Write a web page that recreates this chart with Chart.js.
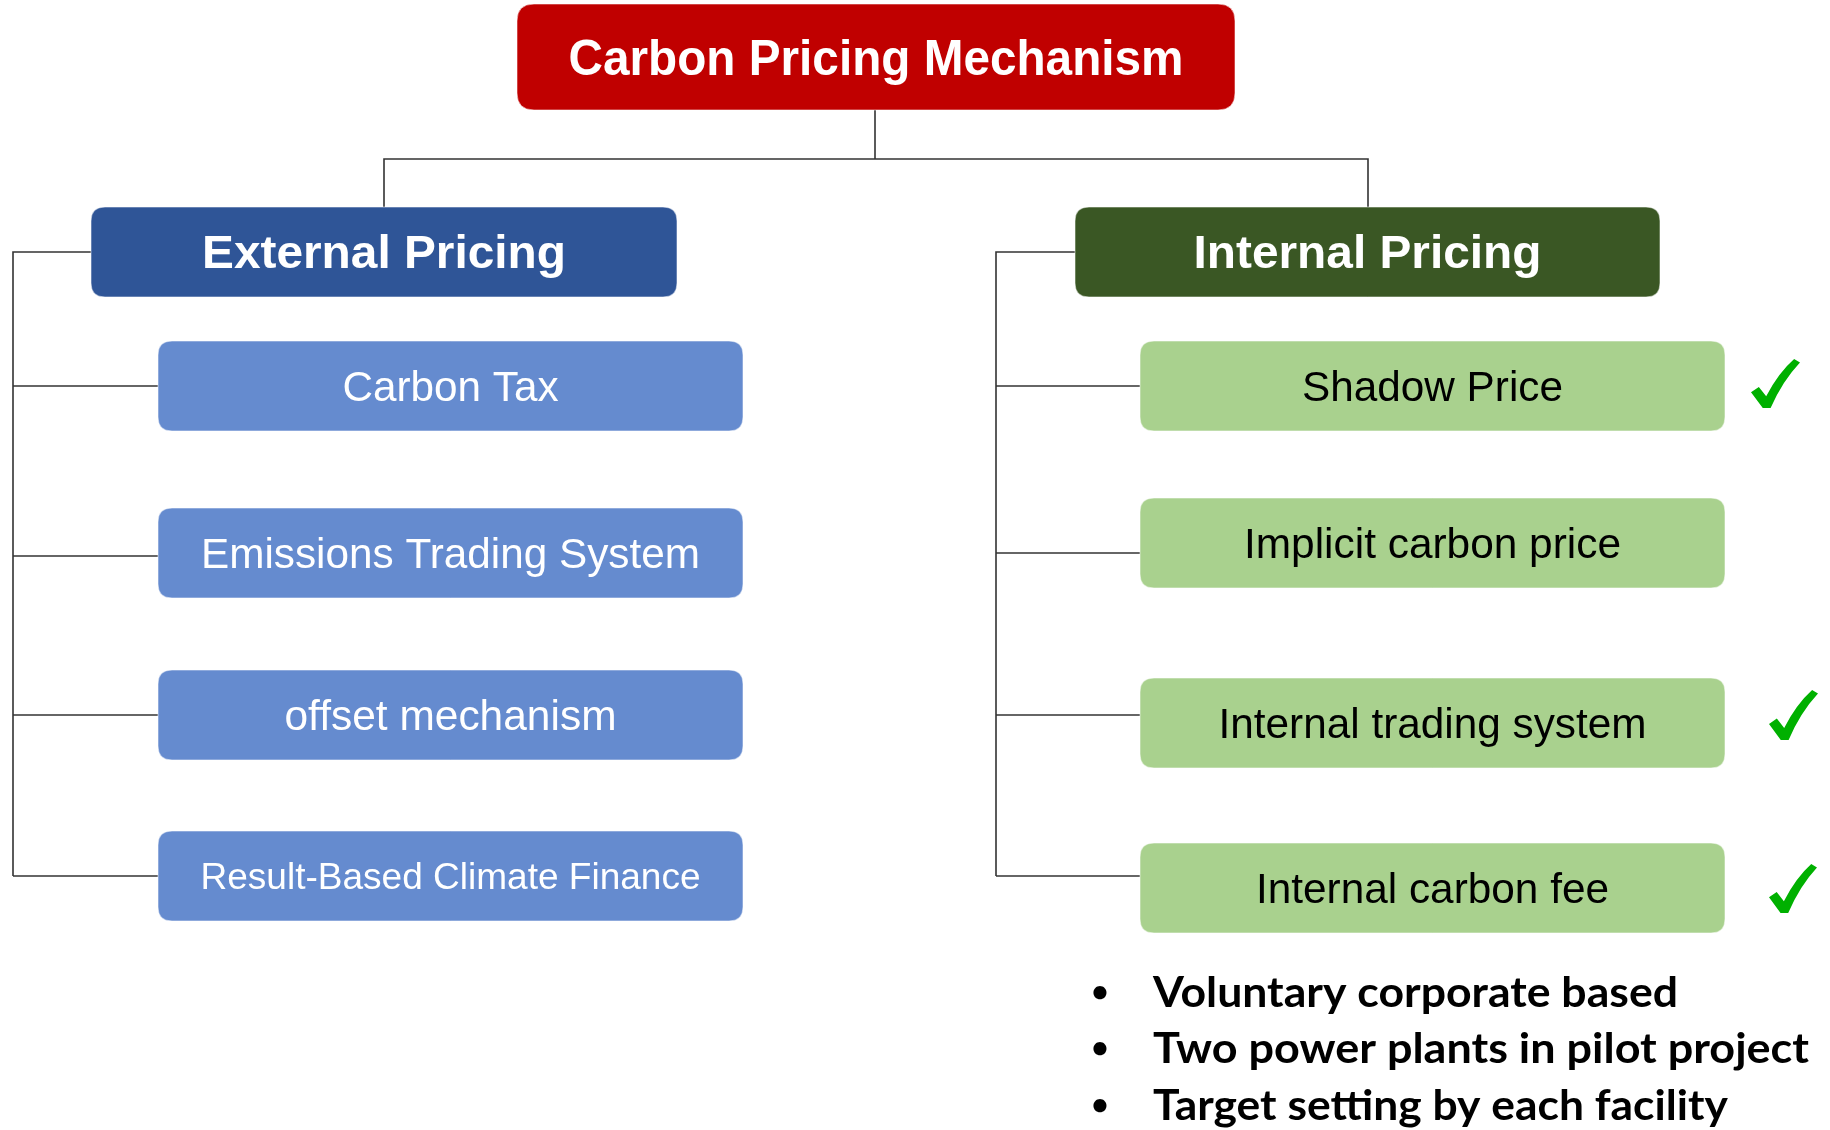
<!DOCTYPE html>
<html><head><meta charset="utf-8">
<script src="https://cdn.jsdelivr.net/npm/chart.js@4.4.1/dist/chart.umd.min.js"></script>
<style>html,body{margin:0;padding:0;background:#fff;overflow:hidden}canvas{display:block}</style>
</head><body>
<canvas id="c" width="1830" height="1130" style="width:1830px;height:1130px"></canvas>
<script>
// ---- content ----
const rootLabel = 'Carbon Pricing Mechanism';
const branchLabels = ['External Pricing', 'Internal Pricing'];
const externalItems = ['Carbon Tax', 'Emissions Trading System', 'offset mechanism', 'Result-Based Climate Finance'];
const internalItems = ['Shadow Price', 'Implicit carbon price', 'Internal trading system', 'Internal carbon fee'];
const internalChecked = [true, false, true, true];
const noteLines = ['Voluntary corporate based', 'Two power plants in pilot project', 'Target setting by each facility'];

// ---- layout (diagram units, mapped through the chart scales) ----
const layout = {
  root: {x0: 517, x1: 1235, y0: 4, y1: 110, r: 17, fill: '#C00000', color: '#FFFFFF', weight: 'bold', size: 50, tw: 615},
  branches: [
    {x0: 91, x1: 677, y0: 207, y1: 297, r: 14, fill: '#2F5597', color: '#FFFFFF', weight: 'bold', size: 46, tw: 364},
    {x0: 1075, x1: 1660, y0: 207, y1: 297, r: 14, fill: '#3A5724', color: '#FFFFFF', weight: 'bold', size: 46, tw: 348}
  ],
  ext: {x0: 158, x1: 743, ys: [[341, 431], [508, 598], [670, 760], [831, 921]], sizes: [42, 42, 42, 37], tws: [216, 499, 332, 500],
        fill: '#658BCF', color: '#FFFFFF', r: 14, links: [386, 556, 715, 876], spineX: 13, topY: 252},
  int: {x0: 1140, x1: 1725, ys: [[341, 431], [498, 588], [678, 768], [843, 933]], sizes: [42, 42, 42, 42], tws: [261, 377, 428, 353],
        fill: '#A9D18E', color: '#000000', r: 14, links: [386, 553, 715, 876], spineX: 996, topY: 252},
  checks: [[1751, 359, 49, 49], null, [1769, 690, 49, 50], [1769, 864, 48, 49]],
  rootLink: {x: 875, y0: 110, y1: 159, xl: 384, xr: 1368, yb: 207},
  notes: {bulletX: 1100, textX: 1153, baselines: [1007, 1063, 1120], size: 42, bulletSize: 30, tws: [525, 656, 575]}
};

const SANS = '"Liberation Sans", Arial, sans-serif';
const NOTE_FONT = 'Lato, "Open Sans", sans-serif';

function rr(ctx, x, y, w, h, r) {
  ctx.beginPath();
  ctx.moveTo(x + r, y);
  ctx.lineTo(x + w - r, y);
  ctx.quadraticCurveTo(x + w, y, x + w, y + r);
  ctx.lineTo(x + w, y + h - r);
  ctx.quadraticCurveTo(x + w, y + h, x + w - r, y + h);
  ctx.lineTo(x + r, y + h);
  ctx.quadraticCurveTo(x, y + h, x, y + h - r);
  ctx.lineTo(x, y + r);
  ctx.quadraticCurveTo(x, y, x + r, y);
  ctx.closePath();
}

function fitText(ctx, text, x, baseline, font, tw, align) {
  ctx.font = font;
  const w = ctx.measureText(text).width;
  const sx = tw ? tw / w : 1;
  ctx.save();
  ctx.translate(x, baseline);
  ctx.scale(sx, 1);
  ctx.textAlign = align || 'center';
  ctx.textBaseline = 'alphabetic';
  ctx.fillText(text, 0, 0);
  ctx.restore();
}

const diagram = {
  id: 'diagram',
  afterDatasetsDraw(chart) {
    const ctx = chart.ctx;
    const X = v => chart.scales.x.getPixelForValue(v);
    const Y = v => chart.scales.y.getPixelForValue(v);

    function box(b, label, size, tw, weight) {
      const x0 = X(b.x0), x1 = X(b.x1), y0 = Y(b.y0), y1 = Y(b.y1);
      rr(ctx, x0, y0, x1 - x0, y1 - y0, b.r);
      ctx.fillStyle = b.fill;
      ctx.fill();
      ctx.lineWidth = 1;
      ctx.strokeStyle = 'rgba(255,255,255,0.55)';
      ctx.stroke();
      ctx.fillStyle = b.color;
      const cap = size * 0.716;
      fitText(ctx, label, (x0 + x1) / 2, (y0 + y1) / 2 + cap / 2, (weight || '') + ' ' + size + 'px ' + SANS, tw);
    }

    // connectors
    ctx.save();
    ctx.strokeStyle = '#333333';
    ctx.lineWidth = 1.6;
    const rl = layout.rootLink;
    ctx.beginPath();
    ctx.moveTo(X(rl.x), Y(rl.y0)); ctx.lineTo(X(rl.x), Y(rl.y1));
    ctx.moveTo(X(rl.xl), Y(rl.yb)); ctx.lineTo(X(rl.xl), Y(rl.y1)); ctx.lineTo(X(rl.xr), Y(rl.y1)); ctx.lineTo(X(rl.xr), Y(rl.yb));
    ctx.stroke();
    [[layout.ext, layout.branches[0]], [layout.int, layout.branches[1]]].forEach(([g, br]) => {
      ctx.beginPath();
      ctx.moveTo(X(br.x0), Y(g.topY));
      ctx.lineTo(X(g.spineX), Y(g.topY));
      ctx.lineTo(X(g.spineX), Y(g.links[g.links.length - 1]));
      ctx.stroke();
      g.links.forEach(ly => {
        ctx.beginPath();
        ctx.moveTo(X(g.spineX), Y(ly));
        ctx.lineTo(X(g.x0), Y(ly));
        ctx.stroke();
      });
    });
    ctx.restore();

    // boxes
    box(layout.root, rootLabel, layout.root.size, layout.root.tw, 'bold');
    branchLabels.forEach((lab, i) => { const b = layout.branches[i]; box(b, lab, b.size, b.tw, 'bold'); });
    [[externalItems, layout.ext], [internalItems, layout.int]].forEach(([items, g]) => {
      items.forEach((lab, i) => {
        const b = {x0: g.x0, x1: g.x1, y0: g.ys[i][0], y1: g.ys[i][1], r: g.r, fill: g.fill, color: g.color};
        box(b, lab, g.sizes[i], g.tws[i], '');
      });
    });

    // check marks
    internalChecked.forEach((on, i) => {
      if (!on) return;
      const c = layout.checks[i];
      const x = X(c[0]), y = Y(c[1]), w = X(c[0] + c[2]) - x, h = Y(c[1] + c[3]) - y;
      const P = (u, v) => [x + u * w, y + v * h];
      ctx.save();
      ctx.fillStyle = '#00B000';
      ctx.beginPath();
      ctx.moveTo(...P(0.00, 0.68));
      ctx.lineTo(...P(0.16, 0.57));
      ctx.lineTo(...P(0.31, 0.76));
      ctx.quadraticCurveTo(...P(0.56, 0.28), ...P(0.88, 0.00));
      ctx.lineTo(...P(1.00, 0.07));
      ctx.quadraticCurveTo(...P(0.64, 0.45), ...P(0.40, 1.00));
      ctx.lineTo(...P(0.24, 1.00));
      ctx.closePath();
      ctx.fill();
      ctx.restore();
    });

    // notes
    const n = layout.notes;
    ctx.save();
    ctx.fillStyle = '#000000';
    noteLines.forEach((t, i) => {
      const bl = Y(n.baselines[i]);
      fitText(ctx, '\u2022', X(n.bulletX), bl - 5, 'bold ' + n.bulletSize + 'px ' + NOTE_FONT, null, 'center');
      fitText(ctx, t, X(n.textX), bl, 'bold ' + n.size + 'px ' + NOTE_FONT, n.tws[i], 'left');
    });
    ctx.restore();
  }
};

const anchorPoints = [];
anchorPoints.push({x: (layout.root.x0 + layout.root.x1) / 2, y: (layout.root.y0 + layout.root.y1) / 2});

new Chart(document.getElementById('c').getContext('2d'), {
  type: 'scatter',
  data: {datasets: [{data: anchorPoints, pointRadius: 0, showLine: false}]},
  options: {
    responsive: false,
    animation: false,
    events: [],
    layout: {padding: 0},
    plugins: {legend: {display: false}, tooltip: {enabled: false}},
    scales: {
      x: {type: 'linear', min: 0, max: 1830, display: false},
      y: {type: 'linear', min: 0, max: 1130, reverse: true, display: false}
    }
  },
  plugins: [diagram]
});
</script>
</body></html>
